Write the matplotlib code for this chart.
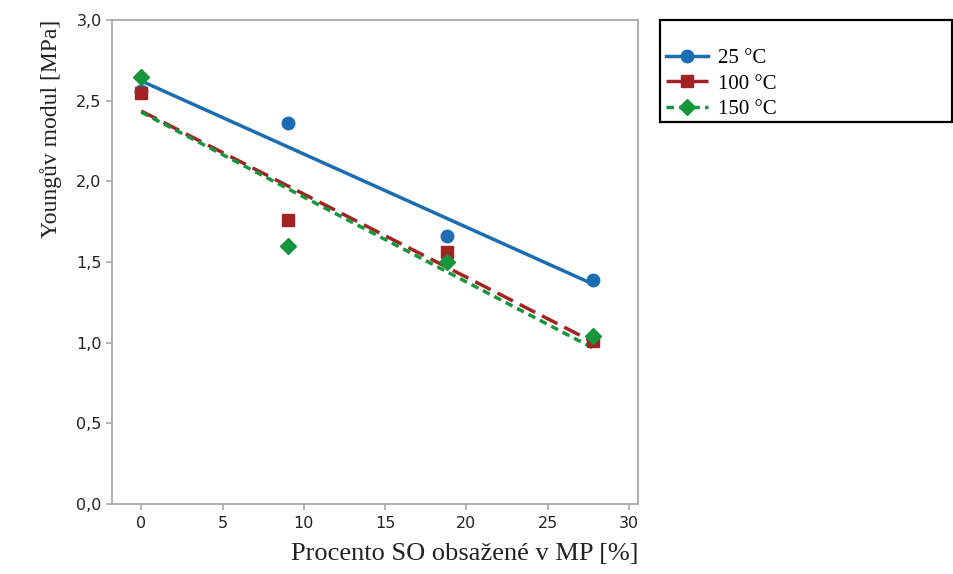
import numpy as np
import matplotlib
matplotlib.use("Agg")
import matplotlib.pyplot as plt
from matplotlib.lines import Line2D
from matplotlib.patches import Rectangle
from matplotlib.ticker import FuncFormatter

# data
so_percent = [0, 9, 18.8, 27.8]
modul_25 = [2.56, 2.36, 1.66, 1.39]
modul_100 = [2.55, 1.76, 1.56, 1.01]
modul_150 = [2.65, 1.60, 1.50, 1.04]
labels = ["25 °C", "100 °C", "150 °C"]

colors = ["#1a6db3", "#a32323", "#16963a"]
markers = ["o", "s", "D"]
dashes = [None, (5, 2.2), (2.2, 1.5)]
msizes = [9, 9, 8.5]

fig = plt.figure(figsize=(9.54, 5.74), dpi=100)
ax = fig.add_axes([0.1174, 0.122, 0.5514, 0.843])

x = np.array(so_percent)
series = [modul_25, modul_100, modul_150]
handles = []
for y, c, m, d, ms, lab in zip(series, colors, markers, dashes, msizes, labels):
    k, q = np.polyfit(x, y, 1)
    xs = np.array([x.min(), x.max()])
    ln, = ax.plot(xs, k * xs + q, color=c, lw=2.5, zorder=2)
    if d is not None:
        ln.set_dashes(d)
    ax.plot(x, y, linestyle="none", marker=m, color=c, markersize=ms,
            markeredgecolor=c, zorder=3)
    h = Line2D([], [], color=c, lw=2.5, marker=m, markersize=ms)
    if d is not None:
        h.set_dashes(d)
    handles.append(h)

ax.set_xlim(-1.8, 30.55)
ax.set_ylim(0, 3.0)
ax.set_xticks(range(0, 31, 5))
ax.set_yticks(np.arange(0, 3.01, 0.5))
ax.yaxis.set_major_formatter(FuncFormatter(lambda v, p: f"{v:.1f}".replace(".", ",")))

for s in ax.spines.values():
    s.set_color("#a8a8a8")
    s.set_linewidth(1.3)
ax.tick_params(colors="#a8a8a8", length=4, width=1.2, labelcolor="#222222",
               labelsize=11.5)
ax.tick_params(axis="x", pad=5)

serif = ["Liberation Serif", "DejaVu Serif"]
ax.set_xlabel("Procento SO obsažené v MP [%]", family=serif, fontsize=19,
              color="#222222", loc="right", labelpad=8)
ax.set_ylabel("Youngův modul [MPa]", family=serif, fontsize=17,
              color="#222222", loc="top", labelpad=10)

fig.patches.append(Rectangle((0.6918, 0.7875), 0.306, 0.1777,
                             transform=fig.transFigure, fill=False,
                             edgecolor="black", lw=1.6))
fig.legend(handles, labels, loc="upper left",
           bbox_to_anchor=(0.698, 0.916), frameon=False,
           prop={"family": serif, "size": 15}, handlelength=2.0,
           handletextpad=0.5, labelspacing=0.3, borderpad=0, borderaxespad=0)

fig.savefig("out.png", dpi=100)
